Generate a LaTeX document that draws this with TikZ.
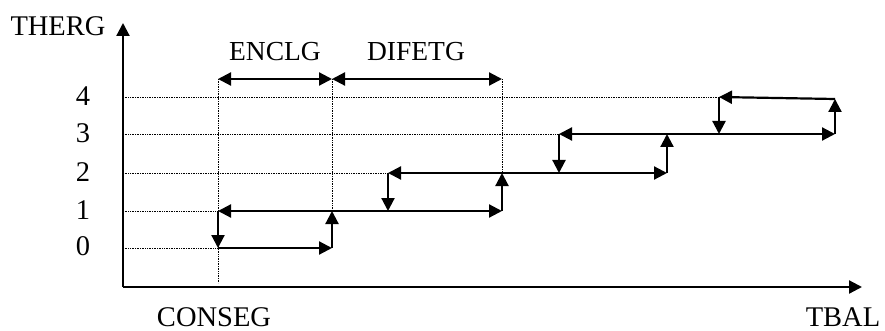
\documentclass[tikz,border=0pt]{standalone}
\usepackage{fontspec}
\setmainfont{Liberation Serif}
\usetikzlibrary{arrows.meta,positioning}

\tikzset{
  tip/.style={-{Triangle[length=13pt,width=13pt]}},
  twotip/.style={{Triangle[length=13pt,width=13pt]}-{Triangle[length=13pt,width=13pt]}},
  path line/.style={line width=2.2pt},
  guide/.style={densely dotted, line width=0.7pt},
  lbl/.style={font=\fontsize{27.5}{31}\selectfont, inner sep=0pt},
  axis lbl/.style={font=\fontsize{28.5}{32}\selectfont, inner sep=0pt},
}

\begin{document}
\begin{tikzpicture}[x=1pt,y=-1pt]
  \useasboundingbox (0,0) rectangle (885,331);

  % axes
  \coordinate (o) at (123,287);
  \coordinate (ytop) at (123,23);
  \coordinate (xend) at (862,287);
  \draw[path line, tip] (o) -- (ytop);
  \draw[path line, tip] (o) -- (xend);
  \node[axis lbl] (therg) at (58,26) {THERG};
  \node[axis lbl] (tbal) at (843,317) {TBAL};
  \node[axis lbl] (conseg) at (214,317) {CONSEG};

  % level ticks
  \node[axis lbl] (l0) at (83,246) {0};
  \node[axis lbl] (l1) at (83,210) {1};
  \node[axis lbl] (l2) at (83,172) {2};
  \node[axis lbl] (l3) at (83,133) {3};
  \node[axis lbl] (l4) at (83,96) {4};
  \coordinate (y0) at (123,248);
  \coordinate (y1) at (123,211);
  \coordinate (y2) at (123,173);
  \coordinate (y3) at (123,134);
  \coordinate (y4) at (123,97);

  % corners of the steps
  \coordinate (a0) at (218,248);
  \coordinate (a1) at (218,211);
  \coordinate (b0) at (332,248);
  \coordinate (b1) at (332,211);
  \coordinate (c1) at (388,211);
  \coordinate (c2) at (388,173);
  \coordinate (d1) at (502,211);
  \coordinate (d2) at (502,173);
  \coordinate (e2) at (559,173);
  \coordinate (e3) at (559,134);
  \coordinate (f2) at (667,173);
  \coordinate (f3) at (667,134);
  \coordinate (g3) at (719,134);
  \coordinate (g4) at (719,97);
  \coordinate (h3) at (835,134);
  \coordinate (h4) at (835,99);

  % time marks on top
  \coordinate (ta) at (218,79);
  \coordinate (tb) at (332,79);
  \coordinate (td) at (502,79);
  \coordinate (abot) at (218,283);

  % dotted guides
  \draw[guide] (y0) -- (a0);
  \draw[guide] (y1) -- (a1);
  \draw[guide] (y2) -- (c2);
  \draw[guide] (y3) -- (e3);
  \draw[guide] (y4) -- (g4);
  \draw[guide] (ta) -- (abot);
  \draw[guide] (tb) -- (b1);
  \draw[guide] (td) -- (d2);

  % delays
  \draw[path line, twotip] (ta) -- (tb);
  \draw[path line, twotip] (tb) -- (td);
  \node[lbl] (enclg) at (275,52) {ENCLG};
  \node[lbl] (difetg) at (416,52) {DIFETG};

  % staircase
  \draw[path line, tip] (a0) -- (b0);
  \draw[path line, tip] (b0) -- (b1);
  \draw[path line, tip] (a1) -- (a0);
  \draw[path line, twotip] (a1) -- (d1);
  \draw[path line, tip] (d1) -- (d2);
  \draw[path line, tip] (c2) -- (c1);
  \draw[path line, twotip] (c2) -- (f2);
  \draw[path line, tip] (f2) -- (f3);
  \draw[path line, tip] (e3) -- (e2);
  \draw[path line, twotip] (e3) -- (h3);
  \draw[path line, tip] (h3) -- (h4);
  \draw[path line, tip] (g4) -- (g3);
  \draw[path line, tip] (h4) -- (g4);
\end{tikzpicture}
\end{document}
